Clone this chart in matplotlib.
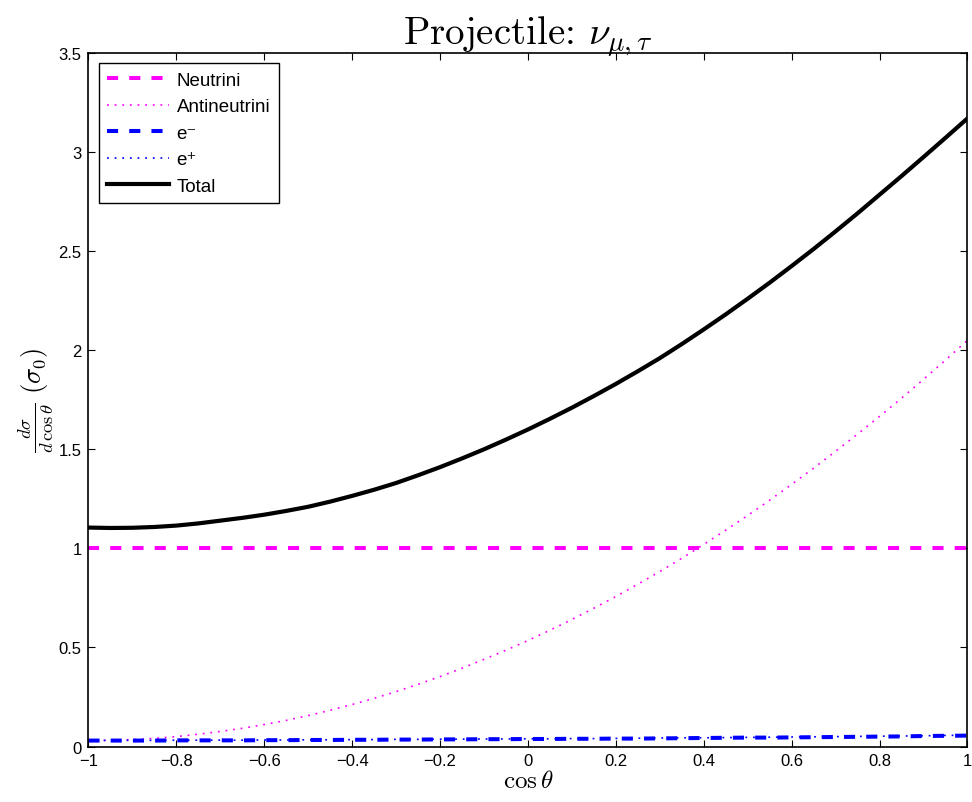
import matplotlib
matplotlib.use("Agg")
import matplotlib.pyplot as plt

# ---- data ----
cos_theta = [-1.00, -0.95, -0.90, -0.85, -0.80, -0.75, -0.70, -0.65, -0.60, -0.55,
             -0.50, -0.45, -0.40, -0.35, -0.30, -0.25, -0.20, -0.15, -0.10, -0.05,
             0.00, 0.05, 0.10, 0.15, 0.20, 0.25, 0.30, 0.35, 0.40, 0.45,
             0.50, 0.55, 0.60, 0.65, 0.70, 0.75, 0.80, 0.85, 0.90, 0.95, 1.00]
neutrini = [1.0] * 41
antineutrini = [0.030, 0.031, 0.035, 0.041, 0.050, 0.062, 0.076, 0.092, 0.111, 0.132,
                0.156, 0.183, 0.212, 0.243, 0.277, 0.314, 0.353, 0.395, 0.440, 0.486,
                0.535, 0.587, 0.641, 0.698, 0.757, 0.819, 0.883, 0.950, 1.020, 1.092,
                1.166, 1.243, 1.323, 1.405, 1.490, 1.577, 1.666, 1.758, 1.853, 1.950, 2.050]
e_minus = [0.030, 0.030, 0.030, 0.030, 0.031, 0.031, 0.031, 0.031, 0.032, 0.032,
           0.033, 0.033, 0.034, 0.034, 0.035, 0.035, 0.036, 0.036, 0.037, 0.037,
           0.038, 0.038, 0.039, 0.039, 0.040, 0.040, 0.041, 0.042, 0.043, 0.044,
           0.045, 0.045, 0.046, 0.047, 0.048, 0.049, 0.050, 0.051, 0.053, 0.054, 0.055]
e_plus = [0.031, 0.031, 0.031, 0.031, 0.032, 0.032, 0.032, 0.032, 0.033, 0.033,
          0.034, 0.034, 0.035, 0.035, 0.036, 0.036, 0.037, 0.037, 0.038, 0.038,
          0.039, 0.039, 0.040, 0.040, 0.041, 0.042, 0.043, 0.044, 0.044, 0.045,
          0.046, 0.047, 0.048, 0.049, 0.050, 0.051, 0.052, 0.053, 0.054, 0.056, 0.057]
total = [1.105, 1.103, 1.104, 1.108, 1.115, 1.126, 1.140, 1.154, 1.170, 1.189,
         1.210, 1.236, 1.265, 1.296, 1.330, 1.369, 1.410, 1.454, 1.500, 1.549,
         1.600, 1.654, 1.710, 1.769, 1.830, 1.894, 1.960, 2.031, 2.105, 2.181,
         2.260, 2.341, 2.425, 2.511, 2.600, 2.691, 2.785, 2.879, 2.975, 3.072, 3.170]

series_labels = ["Neutrini", "Antineutrini", "e\u207b", "e\u207a", "Total"]
xtick_vals = [-1, -0.8, -0.6, -0.4, -0.2, 0, 0.2, 0.4, 0.6, 0.8, 1]
xtick_labels = ["\u22121", "\u22120.8", "\u22120.6", "\u22120.4", "\u22120.2", "0",
                "0.2", "0.4", "0.6", "0.8", "1"]
ytick_vals = [0, 0.5, 1, 1.5, 2, 2.5, 3, 3.5]
ytick_labels = ["0", "0.5", "1", "1.5", "2", "2.5", "3", "3.5"]

plt.rcParams["font.family"] = ["Liberation Sans", "DejaVu Sans"]
plt.rcParams["mathtext.fontset"] = "cm"
plt.rcParams["lines.scale_dashes"] = False

fig = plt.figure(figsize=(9.72, 8.03), dpi=100)
ax = fig.add_axes([0.0910, 0.0691, 0.9043, 0.8636])

ax.plot(cos_theta, neutrini, color="#ff00ff", lw=2.9, dashes=(8, 8), label=series_labels[0])
ax.plot(cos_theta, antineutrini, color="#ff00ff", lw=1.2, dashes=(1.3, 4.2), label=series_labels[1])
ax.plot(cos_theta, e_minus, color="#0000ff", lw=2.9, dashes=(8, 8), label=series_labels[2])
ax.plot(cos_theta, e_plus, color="#0000ff", lw=1.2, dashes=(1.3, 4.2), label=series_labels[3])
ax.plot(cos_theta, total, color="black", lw=3.0, label=series_labels[4])

ax.set_xlim(-1, 1)
ax.set_ylim(0, 3.5)
ax.set_xticks(xtick_vals)
ax.set_xticklabels(xtick_labels)
ax.set_yticks(ytick_vals)
ax.set_yticklabels(ytick_labels)
ax.tick_params(direction="in", length=5, width=0.8, top=True, right=True,
               labelsize=12, pad=5)
for s in ax.spines.values():
    s.set_linewidth(1.2)

ax.set_title(r"Projectile: $\nu_{\mu,\tau}$", fontsize=28, pad=6,
             fontfamily=["cmr10", "DejaVu Serif"])
ax.set_xlabel(r"$\cos\theta$", fontsize=18, labelpad=0)
ax.set_ylabel(r"$\frac{d\sigma}{d\,\cos\theta}\ (\sigma_0)$", fontsize=19, labelpad=2)

leg = ax.legend(loc="upper left", fontsize=13.5, frameon=True, fancybox=False,
                edgecolor="black", framealpha=1, handlelength=3.3,
                borderpad=0.45, labelspacing=0.5, handletextpad=0.4,
                borderaxespad=0.55)
leg.get_frame().set_linewidth(1.0)

fig.savefig("out.png", dpi=100)
